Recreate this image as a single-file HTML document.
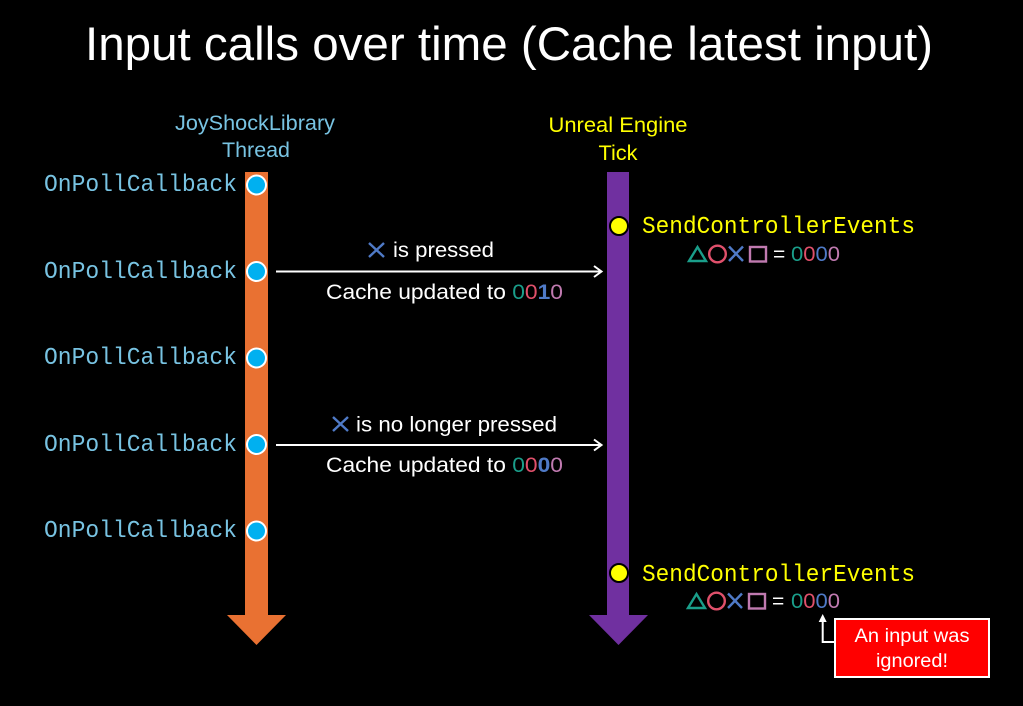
<!DOCTYPE html>
<html><head><meta charset="utf-8"><style>
html,body{margin:0;padding:0;background:#000;}
svg{display:block;}
</style></head><body>
<svg width="1023" height="706" viewBox="0 0 1023 706" xmlns="http://www.w3.org/2000/svg">
<rect width="1023" height="706" fill="#000"/>
<text x="85" y="60" font-family="Liberation Sans, sans-serif" font-size="47" fill="#fff" textLength="848" lengthAdjust="spacingAndGlyphs">Input calls over time (Cache latest input)</text>

<g font-family="Liberation Sans, sans-serif" font-size="21" fill="#78C3E2" text-anchor="middle">
<text x="255" y="130" textLength="160" lengthAdjust="spacingAndGlyphs">JoyShockLibrary</text>
<text x="256" y="157" textLength="68" lengthAdjust="spacingAndGlyphs">Thread</text>
</g>
<g font-family="Liberation Sans, sans-serif" font-size="21" fill="#FFFF00" text-anchor="middle">
<text x="618" y="132" textLength="139" lengthAdjust="spacingAndGlyphs">Unreal Engine</text>
<text x="618" y="160" textLength="39" lengthAdjust="spacingAndGlyphs">Tick</text>
</g>

<!-- orange bar -->
<rect x="245" y="172" width="23" height="444" fill="#E97132"/>
<polygon points="227,615 286,615 256.5,645" fill="#E97132"/>
<!-- purple bar -->
<rect x="607" y="172" width="22" height="444" fill="#7030A0"/>
<polygon points="589,615 648,615 618.5,645" fill="#7030A0"/>

<!-- poll callbacks -->
<g font-family="Liberation Mono, monospace" font-size="24.5" fill="#78C3E2" text-anchor="end">
<text x="237" y="191" textLength="193" lengthAdjust="spacingAndGlyphs">OnPollCallback</text>
<text x="237" y="278" textLength="193" lengthAdjust="spacingAndGlyphs">OnPollCallback</text>
<text x="237" y="364" textLength="193" lengthAdjust="spacingAndGlyphs">OnPollCallback</text>
<text x="237" y="451" textLength="193" lengthAdjust="spacingAndGlyphs">OnPollCallback</text>
<text x="237" y="537" textLength="193" lengthAdjust="spacingAndGlyphs">OnPollCallback</text>
</g>
<g fill="#00B0F0" stroke="#fff" stroke-width="2">
<circle cx="256.5" cy="185" r="9.5"/>
<circle cx="256.5" cy="271.5" r="9.5"/>
<circle cx="256.5" cy="358" r="9.5"/>
<circle cx="256.5" cy="444.5" r="9.5"/>
<circle cx="256.5" cy="531" r="9.5"/>
</g>

<!-- yellow events -->
<g fill="#FFFF00" stroke="#000" stroke-width="2">
<circle cx="619" cy="226" r="9"/>
<circle cx="619" cy="573" r="9"/>
</g>
<g font-family="Liberation Mono, monospace" font-size="24.5" fill="#FFFF00">
<text x="642" y="233" textLength="273" lengthAdjust="spacingAndGlyphs">SendControllerEvents</text>
<text x="642" y="581" textLength="273" lengthAdjust="spacingAndGlyphs">SendControllerEvents</text>
</g>

<!-- shape rows -->
<g stroke-width="2.4" fill="none">
<polygon points="689,261 697.5,247 706,261" stroke="#1A9E8A"/>
<circle cx="717.5" cy="254" r="8.3" stroke="#E0506B"/>
<line x1="729" y1="246.5" x2="743" y2="261" stroke="#4F7AC7"/>
<line x1="743" y1="246.5" x2="729" y2="261" stroke="#4F7AC7"/>
<rect x="750" y="247" width="16" height="14.5" stroke="#C07AB0"/>
</g>
<g font-family="Liberation Sans, sans-serif" font-size="21">
<text x="773" y="261" fill="#fff">=</text>
<text x="791" y="261" textLength="49" lengthAdjust="spacingAndGlyphs"><tspan fill="#1A9E8A">0</tspan><tspan fill="#E0506B">0</tspan><tspan fill="#4F7AC7">0</tspan><tspan fill="#C07AB0">0</tspan></text>
</g>
<g stroke-width="2.4" fill="none">
<polygon points="688,608 696.5,594 705,608" stroke="#1A9E8A"/>
<circle cx="716.5" cy="601" r="8.3" stroke="#E0506B"/>
<line x1="728" y1="593.5" x2="742" y2="608" stroke="#4F7AC7"/>
<line x1="742" y1="593.5" x2="728" y2="608" stroke="#4F7AC7"/>
<rect x="749" y="594" width="16" height="14.5" stroke="#C07AB0"/>
</g>
<g font-family="Liberation Sans, sans-serif" font-size="21">
<text x="772" y="608" fill="#fff">=</text>
<text x="791" y="608" textLength="49" lengthAdjust="spacingAndGlyphs"><tspan fill="#1A9E8A">0</tspan><tspan fill="#E0506B">0</tspan><tspan fill="#4F7AC7">0</tspan><tspan fill="#C07AB0">0</tspan></text>
</g>

<!-- arrows between -->
<g stroke="#fff" stroke-width="2" fill="none">
<line x1="276" y1="271.5" x2="601" y2="271.5"/>
<polyline points="594,266 601.5,271.5 594,277"/>
<line x1="276" y1="445" x2="601" y2="445"/>
<polyline points="594,439.5 601.5,445 594,450.5"/>
</g>
<!-- labels -->
<g stroke="#4F7AC7" stroke-width="2.4">
<line x1="369" y1="243" x2="384" y2="257"/>
<line x1="384" y1="243" x2="369" y2="257"/>
<line x1="333" y1="417" x2="348" y2="431"/>
<line x1="348" y1="417" x2="333" y2="431"/>
</g>
<g font-family="Liberation Sans, sans-serif" font-size="21" fill="#fff">
<text x="393" y="257" textLength="101" lengthAdjust="spacingAndGlyphs">is pressed</text>
<text x="356" y="431.5" textLength="201" lengthAdjust="spacingAndGlyphs">is no longer pressed</text>
<text x="326" y="299" textLength="237" lengthAdjust="spacingAndGlyphs">Cache updated to <tspan fill="#1A9E8A">0</tspan><tspan fill="#E0506B">0</tspan><tspan fill="#4F7AC7" font-weight="bold">1</tspan><tspan fill="#C07AB0">0</tspan></text>
<text x="326" y="472" textLength="237" lengthAdjust="spacingAndGlyphs">Cache updated to <tspan fill="#1A9E8A">0</tspan><tspan fill="#E0506B">0</tspan><tspan fill="#4F7AC7" font-weight="bold">0</tspan><tspan fill="#C07AB0">0</tspan></text>
</g>

<!-- ignored callout -->
<polyline points="822.7,620 822.7,642 835,642" stroke="#fff" stroke-width="2" fill="none"/>
<polygon points="822.7,614 818.7,622 826.7,622" fill="#fff"/>
<rect x="835" y="619" width="154" height="58" fill="#FF0000" stroke="#fff" stroke-width="2"/>
<g font-family="Liberation Sans, sans-serif" font-size="19" fill="#fff" text-anchor="middle">
<text x="912" y="642" textLength="115" lengthAdjust="spacingAndGlyphs">An input was</text>
<text x="912" y="667" textLength="72" lengthAdjust="spacingAndGlyphs">ignored!</text>
</g>
</svg>
</body></html>
